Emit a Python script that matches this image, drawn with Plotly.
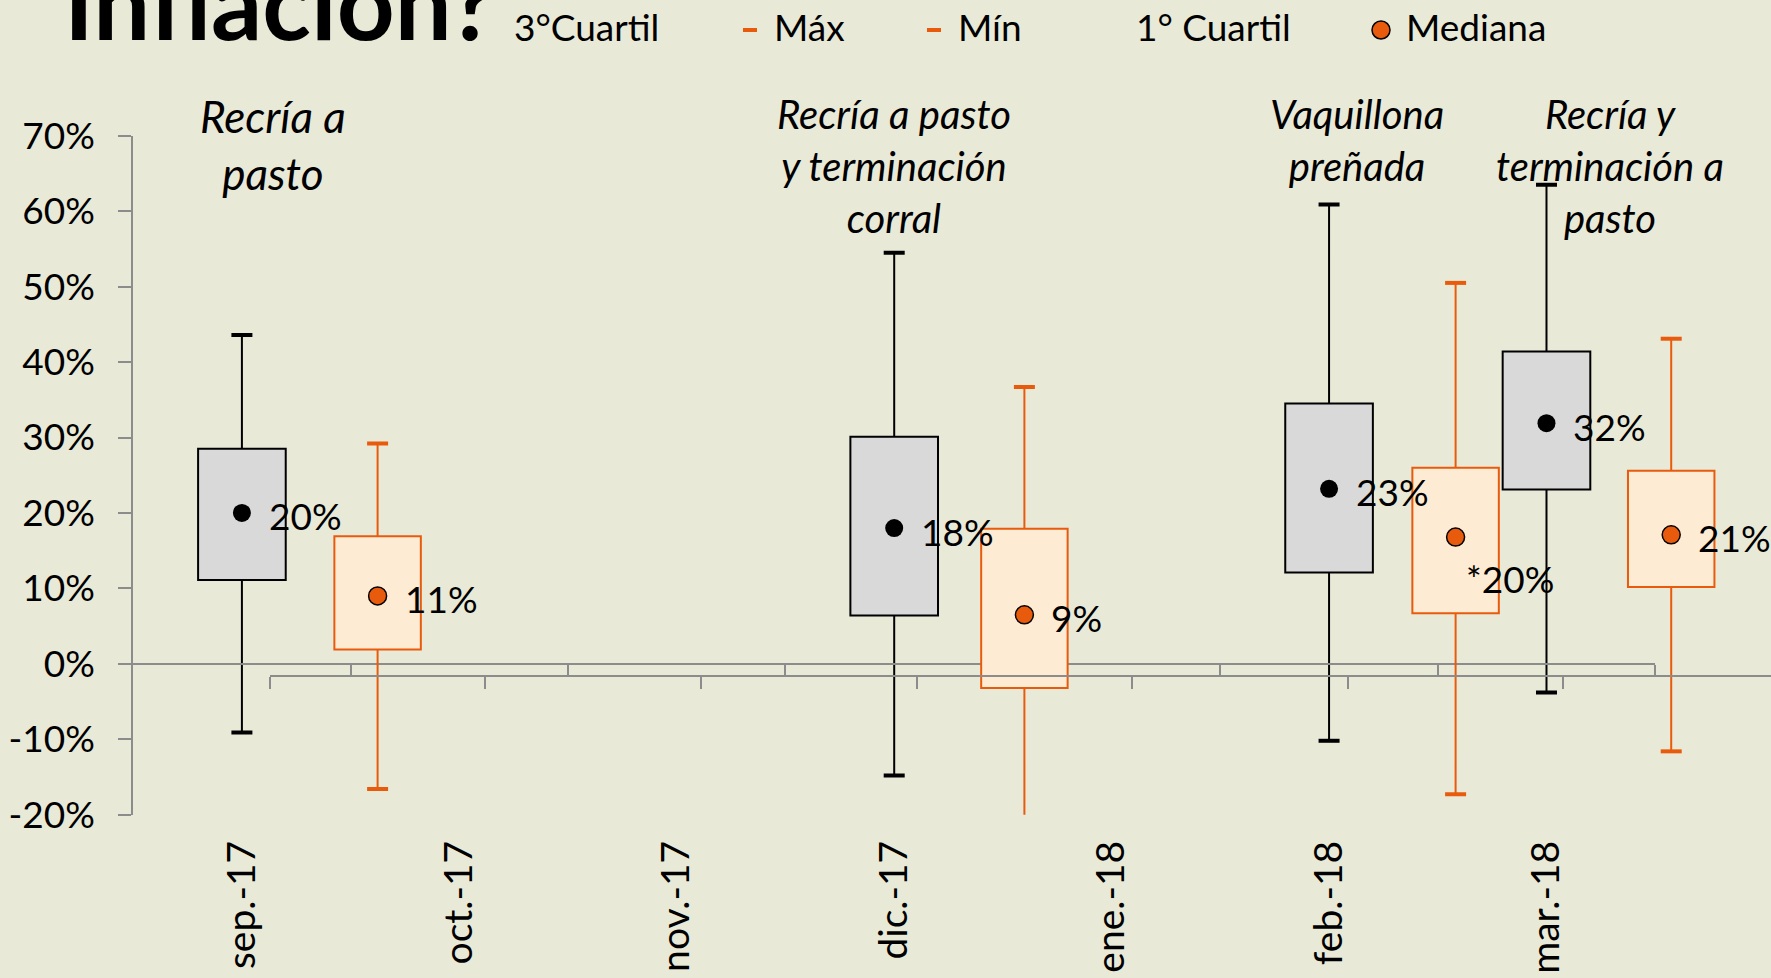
import plotly.graph_objects as go

W, H = 1771, 978
FONT = "Lato, 'Open Sans', sans-serif"
BG = "#E9E9D8"
AXIS_GRAY = "#8C8C8C"
ORANGE = "#E95B0C"
ORANGE_FILL = "#FEEBD4"
GRAY_FILL = "#D9D9D9"

# categorias (eje principal y eje secundario)
months = ["sep.-17", "oct.-17", "nov.-17", "dic.-17", "ene.-18", "feb.-18", "mar.-18"]
y_ticks = [-20, -10, 0, 10, 20, 30, 40, 50, 60, 70]

# serie gris
gray_idx = [0, 3, 5, 6]
gray_max = [43.6, 54.5, 60.9, 63.5]
gray_q3 = [28.5, 30.1, 34.5, 41.4]
gray_med = [20.0, 18.0, 23.2, 31.9]
gray_q1 = [11.1, 6.4, 12.1, 23.1]
gray_min = [-9.1, -14.8, -10.2, -3.8]
gray_lbl = ["20%", "18%", "23%", "32%"]

# serie naranja (eje secundario)
orange_idx = [0, 3, 5, 6]
orange_max = [29.2, 36.7, 50.5, 43.1]
orange_q3 = [16.9, 17.9, 26.0, 25.6]
orange_med = [9.0, 6.5, 16.8, 17.1]
orange_q1 = [1.9, -3.2, 6.7, 10.2]
orange_min = [-16.6, -22.0, -17.3, -11.6]
orange_lbl = ["11%", "9%", "*20%", "21%"]

notes = ["Recría a<br>pasto", "Recría a pasto<br>y terminación<br>corral",
         "Vaquillona<br>preñada", "Recría y<br>terminación a<br>pasto"]
note_x = [0.145, 3.0, 5.13, 6.29]
note_size = [44, 40, 40, 40]

legend_items = ["3°Cuartil", "Máx", "Mín", "1° Cuartil", "Mediana"]
legend_left = [512, 772, 956, 1134, 1404]


def fx(p):
    return p / W


def fy(p):
    return (H - p) / H


def whiskers(idx, lo, hi):
    xs, ys = [], []
    for i, a, b in zip(idx, lo, hi):
        xs += [i, i, None]
        ys += [a, b, None]
    return xs, ys


fig = go.Figure()

# cajas grises
fig.add_trace(go.Bar(
    x=gray_idx, base=gray_q1, y=[b - a for a, b in zip(gray_q1, gray_q3)],
    width=0.403, marker=dict(color=GRAY_FILL, line=dict(color="black", width=2)),
    xaxis="x", yaxis="y", showlegend=False, hoverinfo="skip"))
for lo, hi in [(gray_q3, gray_max), (gray_q1, gray_min)]:
    wx, wy = whiskers(gray_idx, lo, hi)
    fig.add_trace(go.Scatter(x=wx, y=wy, mode="lines", line=dict(color="black", width=2),
                             xaxis="x", yaxis="y", showlegend=False, hoverinfo="skip"))
fig.add_trace(go.Scatter(
    x=gray_idx + gray_idx, y=gray_max + gray_min, mode="markers",
    marker=dict(symbol="line-ew", size=15, line=dict(color="black", width=4)),
    xaxis="x", yaxis="y", showlegend=False))
fig.add_trace(go.Scatter(
    x=gray_idx, y=gray_med, mode="markers",
    marker=dict(symbol="circle", size=18, color="black"),
    xaxis="x", yaxis="y", showlegend=False))

# cajas naranjas
fig.add_trace(go.Bar(
    x=orange_idx, base=orange_q1, y=[b - a for a, b in zip(orange_q1, orange_q3)],
    width=0.401, marker=dict(color=ORANGE_FILL, line=dict(color=ORANGE, width=2)),
    xaxis="x2", yaxis="y", showlegend=False, hoverinfo="skip"))
for lo, hi in [(orange_q3, orange_max), (orange_q1, orange_min)]:
    wx, wy = whiskers(orange_idx, lo, hi)
    fig.add_trace(go.Scatter(x=wx, y=wy, mode="lines", line=dict(color=ORANGE, width=2),
                             xaxis="x2", yaxis="y", showlegend=False, hoverinfo="skip"))
fig.add_trace(go.Scatter(
    x=orange_idx + orange_idx, y=orange_max + orange_min, mode="markers",
    marker=dict(symbol="line-ew", size=15, line=dict(color=ORANGE, width=4)),
    xaxis="x2", yaxis="y", showlegend=False))
fig.add_trace(go.Scatter(
    x=orange_idx, y=orange_med, mode="markers",
    marker=dict(symbol="circle", size=18, color=ORANGE, line=dict(color="black", width=1.5)),
    xaxis="x2", yaxis="y", showlegend=False))

annotations = []
# etiquetas de mediana
for i, v, t in zip(gray_idx, gray_med, gray_lbl):
    annotations.append(dict(x=i, y=v, xref="x", yref="y", text=t, showarrow=False,
                            xanchor="left", yanchor="middle", xshift=25, yshift=-3,
                            font=dict(family=FONT, size=37, color="black")))
lbl_shift = [(25, -3), (25, -3), (8, -41), (25, -3)]
for (i, v, t), (sx, sy) in zip(zip(orange_idx, orange_med, orange_lbl), lbl_shift):
    annotations.append(dict(x=i, y=v, xref="x2", yref="y", text=t, showarrow=False,
                            xanchor="left", yanchor="middle", xshift=sx, yshift=sy,
                            font=dict(family=FONT, size=37, color="black")))

# notas de sistema productivo
for t, x, s in zip(notes, note_x, note_size):
    annotations.append(dict(x=x, y=fy(88), xref="x", yref="paper", text=f"<i>{t}</i>",
                            showarrow=False, xanchor="center", yanchor="top", align="center",
                            font=dict(family=FONT, size=s, color="black")))

# titulo (cortado arriba)
annotations.append(dict(x=fx(62), y=fy(64), xref="paper", yref="paper",
                        text="<b>Inflación?</b>", showarrow=False,
                        xanchor="left", yanchor="bottom",
                        font=dict(family=FONT, size=101, color="black")))

# leyenda
for t, left in zip(legend_items, legend_left):
    annotations.append(dict(x=fx(left), y=fy(51), xref="paper", yref="paper", text=t,
                            showarrow=False, xanchor="left", yanchor="bottom",
                            font=dict(family=FONT, size=37, color="black")))

shapes = [
    dict(type="line", xref="paper", yref="paper", x0=fx(743), x1=fx(757), y0=fy(30), y1=fy(30),
         line=dict(color=ORANGE, width=4)),
    dict(type="line", xref="paper", yref="paper", x0=fx(927), x1=fx(941), y0=fy(30), y1=fy(30),
         line=dict(color=ORANGE, width=4)),
    dict(type="circle", xref="paper", yref="paper", x0=fx(1372), x1=fx(1390), y0=fy(39), y1=fy(21),
         fillcolor=ORANGE, line=dict(color="black", width=1.5)),
]

n = len(months)
x2_step = 215.6
fig.update_layout(
    template="none",
    width=W, height=H,
    margin=dict(l=0, r=0, t=0, b=0, autoexpand=False),
    paper_bgcolor=BG, plot_bgcolor="rgba(0,0,0,0)",
    showlegend=False,
    annotations=annotations, shapes=shapes,
    xaxis=dict(domain=[fx(133.2), fx(1655.2)], range=[-0.5, n - 0.5],
               anchor="free", position=fy(664.3), automargin=False,
               showline=True, linecolor=AXIS_GRAY, linewidth=2,
               ticks="outside", ticklen=12, tickwidth=2, tickcolor=AXIS_GRAY,
               tickvals=[k + 0.5 for k in range(n)], showticklabels=False,
               showgrid=False, zeroline=False),
    xaxis2=dict(domain=[fx(269.8), 1], range=[-0.5, -0.5 + (W - 269.8) / x2_step],
                anchor="free", position=fy(675.7), automargin=False,
                showline=True, linecolor=AXIS_GRAY, linewidth=2,
                ticks="outside", ticklen=12, tickwidth=2, tickcolor=AXIS_GRAY,
                tickvals=[k - 0.5 for k in range(n)], showticklabels=False,
                showgrid=False, zeroline=False),
    xaxis3=dict(overlaying="x", range=[-0.5, n - 0.5], anchor="free", position=fy(832),
                automargin=False, showline=False, ticks="", tickvals=list(range(n)),
                ticktext=months, tickangle=-90,
                tickfont=dict(family=FONT, size=39, color="black"),
                showgrid=False, zeroline=False),
    yaxis=dict(domain=[fy(814.7), fy(135.8)], range=[-20, 70], anchor="x", automargin=False,
               showline=True, linecolor=AXIS_GRAY, linewidth=2,
               ticks="outside", ticklen=13, tickwidth=2, tickcolor=AXIS_GRAY,
               tickvals=y_ticks, ticktext=[f"{v}%" for v in y_ticks], ticklabelstandoff=16,
               tickfont=dict(family=FONT, size=37, color="black"),
               showgrid=False, zeroline=False),
)

# traza invisible para que aparezca el eje de etiquetas
fig.add_trace(go.Scatter(x=[0], y=[0], xaxis="x3", yaxis="y", mode="markers",
                         marker=dict(opacity=0), showlegend=False, hoverinfo="skip"))

fig.write_html("out.html", config={"displayModeBar": False},
               post_script="document.body.style.margin='0';")
